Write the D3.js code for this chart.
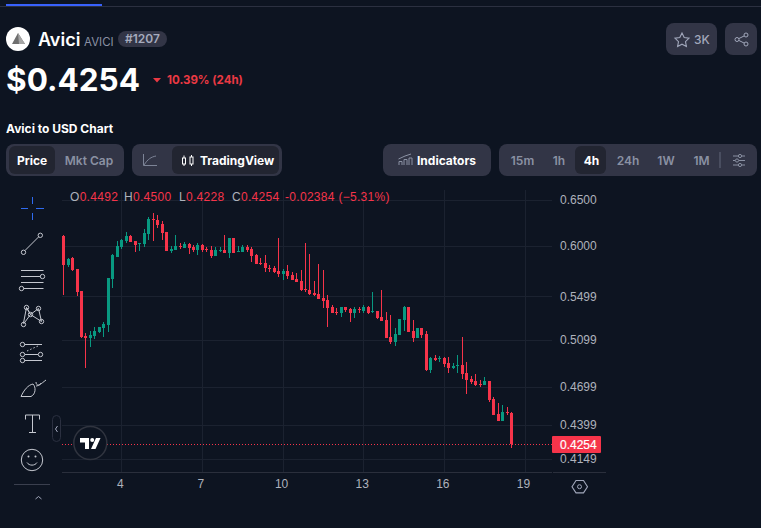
<!DOCTYPE html>
<html>
<head>
<meta charset="utf-8">
<script src="https://cdn.jsdelivr.net/npm/d3@7"></script>
<style>
html, body { margin: 0; padding: 0; background: #0d1421; overflow: hidden; }
svg { display: block; }
text { font-family: Inter, "Noto Sans", sans-serif; }
.axis text, .legendRow text, .tag { font-family: "Liberation Sans", sans-serif; }
.legendRow text { letter-spacing: .3px; }
.axis path, .axis line { display: none; }
</style>
</head>
<body>
<div id="d3Canvas"></div>
<script>
const width = 761;
const height = 528;

// 4h candles
const opens = [.6106,.5807,.5878,.5767,.5551,.5133,.5115,.5133,.5169,.5205,.5232,.5668,.5888,.5991,.6053,.6106,.6053,.6022,.6022,.6127,.6289,.6278,.6235,.6149,.5949,.5960,.6001,.5980,.6022,.5991,.5960,.6011,.5970,.5960,.5898,.5949,.5960,.5929,.6085,.5939,.5939,.5991,.5970,.5908,.5827,.5827,.5777,.5777,.5747,.5717,.5747,.5707,.5668,.5648,.5571,.5561,.5532,.5522,.5484,.5465,.5400,.5353,.5344,.5400,.5381,.5344,.5381,.5363,.5400,.5353,.5363,.5307,.5280,.5124,.5080,.5142,.5280,.5400,.5178,.5115,.5205,.5151,.4839,.4941,.4933,.4941,.4899,.4856,.4873,.4882,.4814,.4764,.4748,.4723,.4715,.4748,.4602,.4483,.4429,.4499,.4492];
const highs = [.6117,.5878,.5888,.5767,.5551,.5160,.5178,.5214,.5214,.5260,.5678,.5918,.6053,.6075,.6149,.6117,.6053,.6032,.6181,.6311,.6355,.6333,.6267,.6149,.6001,.6117,.6032,.6043,.6032,.6011,.6032,.6022,.5991,.6001,.5991,.5991,.6117,.6085,.6085,.6001,.6011,.6011,.5991,.5918,.5878,.5908,.5807,.5797,.6085,.5767,.5807,.5737,.5727,.5757,.6032,.5918,.5648,.5817,.5757,.5513,.5418,.5390,.5400,.5400,.5390,.5400,.5400,.5418,.5409,.5542,.5363,.5561,.5353,.5326,.5205,.5289,.5409,.5400,.5280,.5205,.5205,.5178,.4950,.4967,.4958,.4950,.4950,.4899,.4967,.5124,.4907,.4789,.4806,.4756,.4781,.4748,.4618,.4570,.4554,.4538,.4500];
const lows = [.5513,.5787,.5747,.5503,.5115,.4856,.5036,.5106,.5160,.5124,.5169,.5580,.5888,.5970,.6032,.6043,.5939,.5949,.5991,.6064,.6053,.6192,.6064,.5949,.5929,.5960,.5970,.5980,.5918,.5939,.5908,.5939,.5939,.5878,.5898,.5939,.5929,.5878,.5929,.5939,.5939,.5939,.5837,.5817,.5807,.5737,.5737,.5727,.5687,.5658,.5668,.5658,.5638,.5551,.5542,.5513,.5503,.5475,.5390,.5214,.5344,.5326,.5307,.5353,.5262,.5298,.5344,.5344,.5335,.5344,.5289,.5271,.5115,.5063,.5045,.5142,.5178,.5169,.5080,.5115,.5115,.4831,.4814,.4916,.4907,.4865,.4814,.4848,.4814,.4764,.4641,.4723,.4706,.4698,.4715,.4578,.4475,.4429,.4429,.4475,.4228];
const closes = [.5807,.5867,.5757,.5542,.5124,.5115,.5142,.5178,.5214,.5241,.5678,.5908,.6001,.6064,.6106,.6043,.6011,.6032,.6138,.6289,.6278,.6224,.6138,.5949,.5970,.6001,.5991,.6022,.5980,.5960,.6011,.5960,.5960,.5898,.5960,.5960,.5929,.6085,.5929,.5949,.5991,.5960,.5898,.5817,.5817,.5777,.5767,.5737,.5717,.5747,.5697,.5658,.5638,.5561,.5561,.5522,.5513,.5475,.5456,.5390,.5344,.5344,.5400,.5372,.5344,.5381,.5372,.5400,.5344,.5363,.5298,.5271,.5115,.5080,.5151,.5289,.5400,.5169,.5115,.5205,.5142,.4839,.4941,.4924,.4941,.4890,.4856,.4873,.4882,.4806,.4756,.4739,.4715,.4715,.4748,.4594,.4475,.4429,.4499,.4492,.4254];

const priceTicks = [0.65, 0.6, 0.5499, 0.5099, 0.4699, 0.4399, 0.4149];
const dayTicks = [4, 7, 10, 13, 16, 19];
const lastPrice = 0.4254;
const firstBarDay = 4 - 13 / 6;   // bar 13 sits on the "4" tick, 6 bars a day

const bg = "#0d1421", btn = "#323546", btnOn = "#222531", gridCol = "#1b2230";
const redCol = "#f6344a", greenCol = "#089981", axisTxt = "#aeb2bc", toolCol = "#c5c8d0";

const svg = d3.select("#d3Canvas").append("svg")
    .attr("width", width)
    .attr("height", height);

const y = d3.scaleLog().domain([0.65, 0.4149]).range([200, 458.6]);
const x = d3.scaleLinear().domain([4, 19]).range([121.3, 524.5]);
const barX = (d, i) => Math.round(x(firstBarDay + i / 6));

// grid
const plotLeft = 62, plotRight = 552, plotTop = 190, plotBottom = 472;
svg.selectAll(".hgrid").data(priceTicks).enter().append("line")
    .attr("x1", plotLeft).attr("x2", plotRight)
    .attr("y1", d => Math.round(y(d)) + .5).attr("y2", d => Math.round(y(d)) + .5)
    .attr("stroke", gridCol);
svg.selectAll(".vgrid").data(dayTicks).enter().append("line")
    .attr("x1", d => Math.round(x(d)) + .5).attr("x2", d => Math.round(x(d)) + .5)
    .attr("y1", plotTop).attr("y2", plotBottom)
    .attr("stroke", gridCol);

// candles
const candles = svg.append("g").attr("shape-rendering", "crispEdges");
const colorOf = i => closes[i] >= opens[i] ? greenCol : redCol;
candles.selectAll(".wick").data(highs).enter().append("rect")
    .attr("x", barX)
    .attr("width", 1)
    .attr("y", d => y(d))
    .attr("height", (d, i) => y(lows[i]) - y(d))
    .attr("fill", (d, i) => colorOf(i));
candles.selectAll(".body").data(opens).enter().append("rect")
    .attr("x", (d, i) => barX(d, i) - 1)
    .attr("width", 3)
    .attr("y", (d, i) => y(Math.max(d, closes[i])))
    .attr("height", (d, i) => Math.max(1, Math.abs(y(d) - y(closes[i]))))
    .attr("fill", (d, i) => colorOf(i));

// last price line
svg.append("line")
    .attr("x1", plotLeft).attr("x2", plotRight)
    .attr("y1", Math.round(y(lastPrice)) + .5).attr("y2", Math.round(y(lastPrice)) + .5)
    .attr("stroke", redCol).attr("stroke-dasharray", "1 2");

// axes
svg.append("g").attr("class", "axis")
    .attr("transform", "translate(553,0)")
    .call(d3.axisRight(y).tickValues(priceTicks).tickSize(0).tickPadding(7).tickFormat(d3.format(".4f")))
    .call(g => g.selectAll("text").attr("fill", axisTxt).attr("font-size", 12));
svg.append("g").attr("class", "axis")
    .attr("transform", "translate(-1.5,472)")
    .call(d3.axisBottom(x).tickValues(dayTicks).tickSize(0).tickPadding(7).tickFormat(d3.format("d")))
    .call(g => g.selectAll("text").attr("fill", axisTxt).attr("font-size", 12));
svg.append("path").attr("d", "M62 472.5H552M553 472.5H606").attr("stroke", "#2a2f3c");

svg.append("rect").attr("x", 552).attr("y", 436).attr("width", 49).attr("height", 17).attr("rx", 1).attr("fill", redCol);
svg.append("text").attr("class", "tag").attr("x", 560).attr("y", 449)
    .attr("fill", "#fff").attr("font-size", 12).attr("font-weight", 400).attr("stroke", "#fff").attr("stroke-width", .2)
    .text(d3.format(".4f")(lastPrice));

// OHLC row
const legendRow = svg.append("g").attr("class", "legendRow").attr("font-size", 12);
[["O", 70, "0.4492"], ["H", 124, "0.4500"], ["L", 179, "0.4228"], ["C", 232, "0.4254"]].forEach(r => {
    const t = legendRow.append("text").attr("x", r[1]).attr("y", 201).attr("fill", axisTxt);
    t.append("tspan").text(r[0]);
    t.append("tspan").attr("fill", redCol).text(r[2]);
});
legendRow.append("text").attr("x", 285).attr("y", 201).attr("fill", redCol).text("-0.02384 (\u22125.31%)");

// page header
svg.append("path").attr("d", "M0 6.5H761").attr("stroke", "#2b3040");
svg.append("rect").attr("x", 6).attr("y", 4).attr("width", 96).attr("height", 2).attr("fill", "#3861fb");

function label(txt, px, py, size, weight, fill, anchor) {
    return svg.append("text").attr("x", px).attr("y", py)
        .attr("font-size", size).attr("font-weight", weight).attr("fill", fill)
        .attr("text-anchor", anchor || "start").text(txt);
}
function box(px, py, w, h, fill, r) {
    return svg.append("rect").attr("x", px).attr("y", py).attr("width", w).attr("height", h)
        .attr("rx", r).attr("fill", fill);
}

svg.append("circle").attr("cx", 18).attr("cy", 39).attr("r", 12).attr("fill", "#fff");
svg.append("path").attr("d", "M18 33L25 44H12Z").attr("fill", "#6f6f6f");
svg.append("path").attr("d", "M18 33L25 44H19Z").attr("fill", "#a5a5a5");
label("Avici", 38, 46, 18, 600, "#fff");
label("AVICI", 84, 46, 11.5, 400, "#8a91a3");
box(118, 31, 49, 16, btn, 8);
label("#1207", 142.5, 43, 12, 600, "#a6abbd", "middle");
label("$0.4254", 6, 91, 31.5, 700, "#fff");
svg.append("path").attr("d", "M153 78H161L157 82.5Z").attr("fill", "#ea3943");
label("10.39% (24h)", 167, 84, 11.5, 700, "#ea3943");
label("Avici to USD Chart", 6, 133, 12, 700, "#fff");

box(666, 23, 51, 32, btn, 8);
svg.append("path").attr("d", "M682 33L684.200 37.500L689 38.200L685.500 41.600L686.400 46.500L682 44.200L677.600 46.500L678.500 41.600L675 38.200L679.800 37.500Z")
    .attr("fill", "none").attr("stroke", "#a1a7bb").attr("stroke-width", 1.1);
label("3K", 694, 44, 12, 500, "#a1a7bb");
box(725, 23, 32, 32, btn, 8);
svg.append("path").attr("d", "M746 35L737 39.5L746 44").attr("fill", "none").attr("stroke", "#a1a7bb");
[[746, 35], [737, 39.5], [746, 44]].forEach(p =>
    svg.append("circle").attr("cx", p[0]).attr("cy", p[1]).attr("r", 2).attr("fill", btn).attr("stroke", "#a1a7bb"));

box(6, 144, 118, 32, btn, 8);
box(9, 146, 46, 28, btnOn, 6);
label("Price", 32, 165, 12, 700, "#fff", "middle");
label("Mkt Cap", 89, 165, 12, 600, "#8a91a3", "middle");

box(132, 144, 150, 32, btn, 8);
box(172, 146, 107, 28, btnOn, 6);
svg.append("path").attr("d", "M143.5 154V165.5H157M144 165C148 159 151 157 156 156").attr("fill", "none").attr("stroke", "#7d8497");
svg.append("path").attr("d", "M184 155.5V166M191.5 155V166").attr("stroke", "#fff");
svg.append("rect").attr("x", 182.5).attr("y", 158).attr("width", 3).attr("height", 6).attr("fill", btnOn).attr("stroke", "#fff");
svg.append("rect").attr("x", 190).attr("y", 157).attr("width", 3).attr("height", 7).attr("fill", btnOn).attr("stroke", "#fff");
label("TradingView", 200, 165, 12, 700, "#fff");

box(383, 144, 108, 32, btn, 8);
svg.append("path").attr("d", "M399 165V161.5H402V165M404 165V159.5H407V165M409 165V158H412V165M398.500 159L405 156L411 154")
    .attr("fill", "none").attr("stroke", "#8a91a3");
label("Indicators", 417, 165, 12, 700, "#fff");

box(499, 144, 258, 32, btn, 8);
box(575, 146, 31, 28, btnOn, 6);
[["15m", 522.5], ["1h", 559], ["4h", 591.5], ["24h", 628], ["1W", 666], ["1M", 701.500]].forEach(b =>
    label(b[0], b[1], 165, 12, b[0] === "4h" ? 700 : 600, b[0] === "4h" ? "#fff" : "#8a91a3", "middle"));
svg.append("path").attr("d", "M720 152V168").attr("stroke", "#5a6072").attr("stroke-width", 1.2);
svg.append("path").attr("d", "M733 156H738M742 156H745M733 160.500H735M739 160.500H745M733 165H738M742 165H745").attr("stroke", "#8a91a3");
[[740, 156], [737, 160.5], [740, 165]].forEach(p =>
    svg.append("circle").attr("cx", p[0]).attr("cy", p[1]).attr("r", 1.6).attr("fill", "none").attr("stroke", "#8a91a3"));

// drawing tools on the left
const tools = svg.append("g").attr("fill", "none").attr("stroke", toolCol);
svg.append("path").attr("d", "M21 208.500H28M36 208.500H44M32.500 197V204M32.500 213V220").attr("stroke", "#2f6bf0");
const node = (px, py) => tools.append("circle").attr("cx", px).attr("cy", py).attr("r", 2.2);
tools.append("path").attr("d", "M25 250.500L38.500 237");
node(23.5, 252.3); node(40.3, 235.3);
tools.append("path").attr("d", "M21 270.500H43.500M21 276.500H40.500M21 282.500H43.500M23.500 288.500H43.500");
node(42.5, 276.5); node(21.5, 288.5);
tools.append("path").attr("d", "M23.500 323L26.500 307.500L30.500 314.500L38.500 308.500L41.500 321.500L30.500 314.500L23.500 324M26.500 307.500L30.500 314.500");
[[23.5, 324.5], [26.5, 307.5], [30.5, 314.5], [38.5, 308.5], [41.5, 321.5]].forEach(p => node(p[0], p[1]));
tools.append("path").attr("d", "M24.500 344.500H42M24.500 360.500H42M25 354.500H38");
tools.append("path").attr("d", "M27 351L38 346").attr("stroke-dasharray", "1.5 2");
node(22.5, 344.5); node(22.5, 354.5); node(40.5, 354.5); node(22.5, 360.5);
tools.append("path").attr("d", "M21 396.500C24 390 28 385 33 384C36 387 36 394 31 396.500ZM36 386C38 386 41 384 46 380M36 382C36 386 40 386 41 383");
tools.append("path").attr("d", "M25.500 419.500V415H39.500V419.500M32.500 415V432.500M29 432.500H36");
tools.append("circle").attr("cx", 32).attr("cy", 460).attr("r", 10.7);
tools.append("path").attr("d", "M27 462.500C29 466 35 466 37 462.500");
svg.append("circle").attr("cx", 28.5).attr("cy", 456.5).attr("r", 1).attr("fill", toolCol);
svg.append("circle").attr("cx", 35.5).attr("cy", 456.5).attr("r", 1).attr("fill", toolCol);
svg.append("path").attr("d", "M14 484.500H50").attr("stroke", "#3a3f4e");
svg.append("path").attr("d", "M35.500 499L38.500 496.500L41.500 499").attr("fill", "none").attr("stroke", "#a1a7bb");

svg.append("rect").attr("x", 52.5).attr("y", 415.5).attr("width", 8).attr("height", 26).attr("rx", 4)
    .attr("fill", bg).attr("stroke", "#2b3040");
svg.append("path").attr("d", "M57.500 426L55.500 429L57.500 432").attr("fill", "none").attr("stroke", "#a1a7bb");

// TradingView badge
svg.append("circle").attr("cx", 90.3).attr("cy", 443).attr("r", 16.5).attr("fill", bg).attr("stroke", "#30343f").attr("stroke-width", 1.5);
svg.append("path").attr("d", "M80 438H89V449H85V442.500H80ZM95.500 449L100.500 438H96L91 449Z").attr("fill", "#fff");
svg.append("circle").attr("cx", 92.2).attr("cy", 440).attr("r", 2).attr("fill", "#fff");

// chart settings hexagon
svg.append("path").attr("d", "M576 480.500H583.500L587.500 486.700L583.500 492.900H576L572 486.700Z").attr("fill", "none").attr("stroke", "#a1a7bb").attr("stroke-width", 1.1);
svg.append("circle").attr("cx", 579.5).attr("cy", 486.7).attr("r", 2).attr("fill", "none").attr("stroke", "#a1a7bb");
</script>
</body>
</html>
